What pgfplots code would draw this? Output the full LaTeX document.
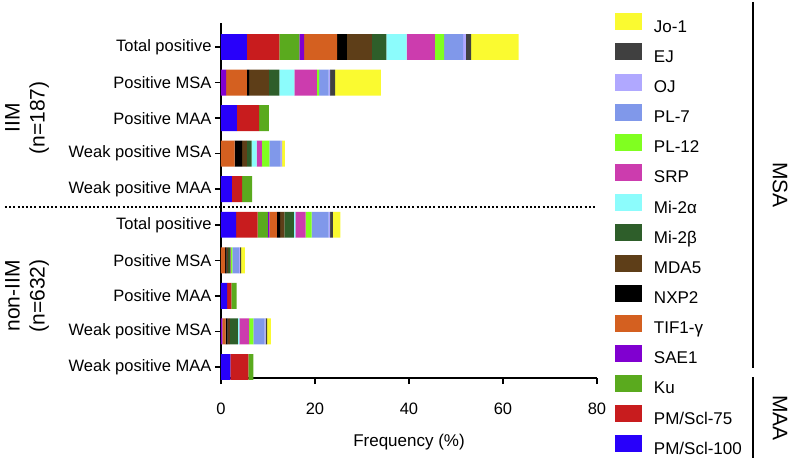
\documentclass[border=0pt]{standalone}
\usepackage{pgfplots}
\pgfplotsset{compat=1.18}
\usepackage{pgfplotstable}
\usepackage{fontspec}
\setmainfont{Liberation Sans}

\definecolor{cBlue}{RGB}{40,0,250}
\definecolor{cRed}{RGB}{200,28,30}
\definecolor{cKu}{RGB}{90,170,30}
\definecolor{cSae}{RGB}{128,0,208}
\definecolor{cTif}{RGB}{212,96,32}
\definecolor{cNxp}{RGB}{0,0,0}
\definecolor{cMda}{RGB}{94,62,24}
\definecolor{cMib}{RGB}{46,94,42}
\definecolor{cMia}{RGB}{140,252,252}
\definecolor{cSrp}{RGB}{204,60,174}
\definecolor{cPlt}{RGB}{128,255,32}
\definecolor{cPls}{RGB}{128,152,234}
\definecolor{cOj}{RGB}{176,168,255}
\definecolor{cEj}{RGB}{64,64,64}
\definecolor{cJo}{RGB}{250,250,48}

\pgfplotstableread{
y  blue red ku  sae tif nxp mda mib mia srp pl12 pl7 oj  ej  jo
1  5.5  6.9 4.3 1.0 7.0 2.1 5.3 3.1 4.3 6.0 2.0  4.0 0.6 1.1 10.1
2  0    0   0   1.1 4.4 0.5 4.2 2.2 3.2 4.8 0.5  2.0 0.3 1.1 9.7
3  3.4  4.7 2.1 0   0   0   0   0   0   0   0    0   0   0   0
4  0    0   0   0   2.9 1.6 1.0 1.0 1.1 1.1 1.6  2.4 0.3 0   0.6
5  2.3  2.2 2.1 0   0   0   0   0   0   0   0    0   0   0   0
6  3.2  4.6 2.2 0.3 1.6 0.7 0.9 2.0 0.3 2.2 1.3  3.6 0.3 0.6 1.6
7  0    0   0   0   0.9 0.3 0.3 0.5 0   0.1 0.3  1.4 0.2 0.3 0.8
8  1.3  0.9 1.1 0   0   0   0   0   0   0   0    0   0   0   0
9  0    0   0   0.3 0.7 0.4 0.5 1.7 0.3 2.1 0.9  2.4 0.2 0.3 0.8
10 2.0  3.8 1.1 0   0   0   0   0   0   0   0    0   0   0   0
}\data

\begin{document}
\begin{tikzpicture}
\useasboundingbox (-221pt,-83pt) rectangle (569pt,378pt);
\begin{axis}[
  at={(0pt,0pt)}, anchor=south west,
  scale only axis, width=376pt, height=355pt,
  xbar stacked, bar width=0.73,
  xmin=0, xmax=80, ymin=0.325, ymax=10.31, y dir=reverse,
  axis x line*=bottom, axis y line*=left,
  axis line style={line width=1.5pt},
  xtick={0,20,40,60,80},
  ytick={1,2,3,4,5,6,7,8,9,10},
  yticklabels={Total positive,Positive MSA,Positive MAA,Weak positive MSA,Weak positive MAA,Total positive,Positive MSA,Positive MAA,Weak positive MSA,Weak positive MAA},
  tick align=outside, major tick length=6pt,
  tick style={line width=1.5pt, black},
  tick label style={font=\fontsize{16.5}{19}\selectfont},
  /pgf/number format/assume math mode=true,
  xticklabel style={yshift=-15pt},
  xlabel={Frequency (\%)},
  xlabel style={at={(axis description cs:0.5,0)}, anchor=center, yshift=-64pt, font=\fontsize{17}{20}\selectfont},
  clip=false,
  reverse legend,
  legend style={at={(axis description cs:1.0479,1.0273)}, anchor=north west, draw=none, fill=none,
    inner sep=0pt, outer sep=0pt, row sep=7.8pt, column sep=12pt,
    font=\fontsize{17}{20}\selectfont,
    nodes={inner sep=0pt, text height=12pt, text depth=3.5pt}},
  legend cell align=left,
  legend image code/.code={\fill[#1] (0pt,-2.4pt) rectangle (27pt,14.6pt);},
]
\addplot[fill=cBlue, draw=none] table[x=blue, y=y] {\data};
\addplot[fill=cRed, draw=none] table[x=red, y=y] {\data};
\addplot[fill=cKu, draw=none] table[x=ku, y=y] {\data};
\addplot[fill=cSae, draw=none] table[x=sae, y=y] {\data};
\addplot[fill=cTif, draw=none] table[x=tif, y=y] {\data};
\addplot[fill=cNxp, draw=none] table[x=nxp, y=y] {\data};
\addplot[fill=cMda, draw=none] table[x=mda, y=y] {\data};
\addplot[fill=cMib, draw=none] table[x=mib, y=y] {\data};
\addplot[fill=cMia, draw=none] table[x=mia, y=y] {\data};
\addplot[fill=cSrp, draw=none] table[x=srp, y=y] {\data};
\addplot[fill=cPlt, draw=none] table[x=pl12, y=y] {\data};
\addplot[fill=cPls, draw=none] table[x=pl7, y=y] {\data};
\addplot[fill=cOj, draw=none] table[x=oj, y=y] {\data};
\addplot[fill=cEj, draw=none] table[x=ej, y=y] {\data};
\addplot[fill=cJo, draw=none] table[x=jo, y=y] {\data};
\legend{PM/Scl-100,PM/Scl-75,Ku,SAE1,TIF1-γ,NXP2,MDA5,Mi-2β,Mi-2α,SRP,PL-12,PL-7,OJ,EJ,Jo-1}
\draw[line width=2pt, dash pattern=on 2pt off 2.2pt] ([xshift=-216pt]axis cs:0,5.5) -- (axis cs:80,5.5);
\end{axis}
\node[rotate=90, align=center, font=\fontsize{21}{25}\selectfont] at (-194pt,260pt) {IIM\\(n=187)};
\node[rotate=90, align=center, font=\fontsize{21}{25}\selectfont] at (-194pt,82pt) {non-IIM\\(n=632)};
\draw[line width=2pt] (532pt,376pt) -- (532pt,10pt);
\draw[line width=2pt] (532pt,1pt) -- (532pt,-80pt);
\node[rotate=-90, font=\fontsize{21}{25}\selectfont] at (559pt,193pt) {MSA};
\node[rotate=-90, font=\fontsize{21}{25}\selectfont] at (559pt,-40pt) {MAA};
\end{tikzpicture}
\end{document}
